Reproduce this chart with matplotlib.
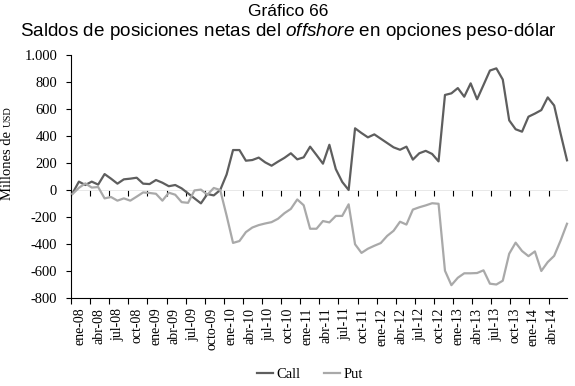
import numpy as np
import matplotlib
matplotlib.use("Agg")
import matplotlib.pyplot as plt
from matplotlib.ticker import FixedLocator, FuncFormatter

# ---------------- data ----------------
tick_labels = ["ene-08", "abr-08", "jul-08", "oct-08", "ene-09", "abr-09", "jul-09", "octo-09",
               "ene-10", "abr-10", "jul-10", "oct-10", "ene-11", "abr-11", "jul-11", "oct-11",
               "ene-12", "abr-12", "jul-12", "oct-12", "ene-13", "abr-13", "jul-13", "oct-13",
               "ene-14", "abr-14"]

call = [-25, 62, 37, 62, 40, 118, 84, 47, 79, 84, 91, 47, 44, 74, 54, 28, 37, 12, -25, -62,
        -99, -30, -40, 0, 115, 296, 296, 217, 222, 240, 205, 180, 210, 238, 272, 227, 242, 321,
        259, 195, 335, 155, 60, 0, 457, 422, 390, 412, 380, 348, 316, 298, 321, 225, 272, 290,
        267, 212, 704, 716, 755, 691, 790, 672, 778, 885, 901, 818, 516, 450, 432, 543, 566,
        592, 686, 626, 418, 220]

put = [-30, 16, 49, 18, 22, -62, -52, -79, -62, -79, -49, -18, -22, -28, -79, -20, -35, -90,
       -95, -3, 3, -35, 15, 0, -190, -392, -378, -312, -278, -260, -248, -238, -213, -172, -140,
       -70, -113, -287, -287, -230, -240, -192, -192, -106, -402, -466, -435, -413, -393, -340,
       -302, -235, -256, -145, -128, -114, -98, -102, -598, -705, -650, -617, -617, -615, -595,
       -694, -700, -672, -472, -390, -452, -490, -455, -600, -534, -488, -375, -250]

y_ticks = [1000, 800, 600, 400, 200, 0, -200, -400, -600, -800]
series_names = ["Call", "Put"]

# ---------------- figure ----------------
plt.rcParams['mathtext.fontset'] = 'custom'
plt.rcParams['mathtext.rm'] = 'Liberation Sans'
plt.rcParams['mathtext.it'] = 'Liberation Sans:italic'

W, H = 575, 386
fig = plt.figure(figsize=(W / 100, H / 100), dpi=100)
left, right, top, bottom = 71, 567, 55, 298
ax = fig.add_axes([left / W, 1 - bottom / H, (right - left) / W, (bottom - top) / H])

x = np.arange(len(call))
ax.plot(x, call, color='#5e5e5e', lw=1.6, label=series_names[0], zorder=3, clip_on=False)
ax.plot(x, put, color='#a9a9a9', lw=1.6, label=series_names[1], zorder=3, clip_on=False)

ax.set_xlim(-0.23, 77.0)
ax.set_ylim(min(y_ticks), max(y_ticks))

# y axis
ax.yaxis.set_major_locator(FixedLocator(y_ticks))
ax.yaxis.set_major_formatter(FuncFormatter(lambda v, p: f"{int(v):,}".replace(",", ".")))
grid_levels = [v for v in y_ticks if v not in (0, min(y_ticks))]
ax.set_yticks(grid_levels, minor=True)
ax.grid(which='minor', axis='y', color='black', lw=0.8)
ax.tick_params(axis='y', which='major', length=3.5, width=0.8, pad=6.5, labelsize=10.5,
               labelfontfamily='Liberation Serif', direction='out')
ax.tick_params(axis='y', which='minor', length=0)

# x axis: tick marks between groups, labels centered in groups
n = len(tick_labels)
tick_pos = -0.23 + 2.974 * np.arange(n)
label_pos = 1.17 + 2.942 * np.arange(n)
ax.xaxis.set_major_locator(FixedLocator(tick_pos))
ax.xaxis.set_major_formatter(FuncFormatter(lambda v, p: ""))
ax.xaxis.set_minor_locator(FixedLocator(label_pos))
ax.xaxis.set_minor_formatter(FuncFormatter(lambda v, p: tick_labels[p] if p is not None and p < n else ""))
ax.tick_params(axis='x', which='major', length=4, width=0.8, direction='out')
ax.tick_params(axis='x', which='minor', length=0, pad=7, labelsize=10,
               labelrotation=90, labelfontfamily='Liberation Serif')

for s in ['top', 'right']:
    ax.spines[s].set_visible(False)
ax.spines['left'].set_linewidth(0.8)
ax.spines['bottom'].set_linewidth(0.8)

# zero axis with tick marks
sec = ax.secondary_xaxis((0 - min(y_ticks)) / (max(y_ticks) - min(y_ticks)))
sec.set_xticks(tick_pos)
sec.set_xticklabels([])
sec.tick_params(length=4, width=0.8, direction='out', color='black')
sec.spines['bottom'].set_color('#e4e4e4')
sec.spines['bottom'].set_linewidth(0.6)

# titles
fig.text(288 / W, 1 - 11 / H, "Gráfico 66", ha='center', va='center',
         fontsize=12.5, family='Liberation Sans')
fig.text(288 / W, 1 - 31 / H,
         r"Saldos de posiciones netas del $\mathit{offshore}$ en opciones peso-dólar",
         ha='center', va='center', fontsize=13.6, family='Liberation Sans')

# y label
fig.text(8 / W, 1 - 166 / H, "Millones de", rotation=90, ha='center', va='center',
         fontsize=10.5, family='Liberation Serif')
fig.text(8.5 / W, 1 - 117 / H, "USD", rotation=90, ha='center', va='center',
         fontsize=7.5, family='Liberation Serif')

leg = fig.legend(loc='center', bbox_to_anchor=(310 / W, 1 - 374 / H), ncol=2, frameon=False,
                 handlelength=1.1, handletextpad=0.25, columnspacing=1.6,
                 prop={'family': 'Liberation Serif', 'size': 10.5})

fig.savefig("out.png", dpi=100)
